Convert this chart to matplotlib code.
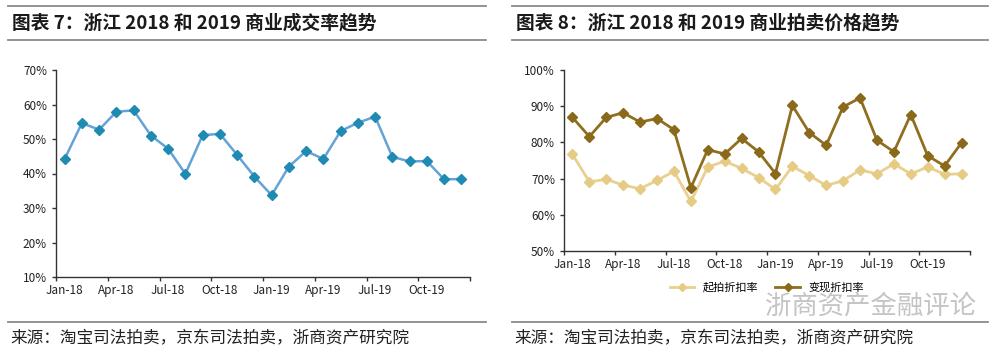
import matplotlib; matplotlib.use("Agg")
import matplotlib.pyplot as plt
from matplotlib.lines import Line2D
from matplotlib.ticker import FixedLocator, PercentFormatter

plt.rcParams['font.family'] = ['Noto Sans CJK SC', 'DejaVu Sans']

months = ["Jan-18","Feb-18","Mar-18","Apr-18","May-18","Jun-18","Jul-18","Aug-18","Sep-18","Oct-18","Nov-18","Dec-18",
          "Jan-19","Feb-19","Mar-19","Apr-19","May-19","Jun-19","Jul-19","Aug-19","Sep-19","Oct-19","Nov-19","Dec-19"]
deal_rate = [44.2,54.6,52.7,57.9,58.3,51.0,47.2,39.9,51.1,51.5,45.4,39.1,
             33.7,42.0,46.5,44.2,52.3,54.7,56.5,44.8,43.5,43.6,38.3,38.4]
start_disc = [76.7,69.1,69.8,68.2,67.2,69.5,72.0,63.7,73.2,74.8,72.8,70.3,
              67.0,73.4,70.8,68.1,69.4,72.4,71.3,74.1,71.3,73.2,71.2,71.3]
real_disc = [86.9,81.6,86.9,88.2,85.6,86.6,83.5,67.5,78.0,76.8,81.1,77.4,
             71.4,90.2,82.7,79.2,89.8,92.3,80.6,77.4,87.7,76.3,73.5,79.9]
titles = ["图表 7：浙江 2018 和 2019 商业成交率趋势", "图表 8：浙江 2018 和 2019 商业拍卖价格趋势"]
source = "来源：淘宝司法拍卖，京东司法拍卖，浙商资产研究院"
legend_labels = ["起拍折扣率", "变现折扣率"]
watermark = "浙商资产金融评论"

W, H = 1000, 354
fig = plt.figure(figsize=(10, 3.54), dpi=100)
fx = lambda px: px / W
fy = lambda py: 1 - py / H

# header / footer rules and text
for x0, x1, t in [(8, 486, titles[0]), (512, 988, titles[1])]:
    for y in (6, 40, 322):
        fig.add_artist(Line2D([fx(x0), fx(x1)], [fy(y), fy(y)], color="#8a8a8a", lw=1.3))
    fig.text(fx(x0 + 4), fy(23), t, fontsize=13.5, fontweight="bold", fontstyle="italic",
             color="#1a1a1a", va="center", ha="left")
    fig.text(fx(x0 + 2), fy(339), source, fontsize=12, color="#222", va="center", ha="left")

def style(ax, lo, hi):
    n = len(months)
    ax.set_xlim(-0.5, n - 0.5)
    ax.set_ylim(lo, hi)
    ax.set_yticks(range(lo, hi + 1, 10))
    ax.yaxis.set_major_formatter(PercentFormatter(decimals=0))
    ax.xaxis.set_major_locator(FixedLocator([i - 0.5 for i in range(0, n + 1, 3)]))
    ax.xaxis.set_minor_locator(FixedLocator(list(range(0, n, 3))))
    ax.set_xticklabels([])
    ax.set_xticklabels([months[i] for i in range(0, n, 3)], minor=True)
    ax.tick_params(axis="x", which="major", length=3, width=1, color="#333")
    ax.tick_params(axis="x", which="minor", length=0, labelsize=8.5, pad=5, colors="#222")
    ax.tick_params(axis="y", length=3, width=1, color="#333", labelsize=8.5, labelcolor="#222")
    for s in ("top", "right"):
        ax.spines[s].set_visible(False)
    for s in ("left", "bottom"):
        ax.spines[s].set_color("#333")
        ax.spines[s].set_linewidth(1)

x = list(range(len(months)))
ax1 = fig.add_axes([fx(56), fy(277), fx(470 - 56), (277 - 70) / H])
ax1.plot(x, deal_rate, color="#64a3d8", lw=1.8, marker="D", markersize=5,
         markerfacecolor="#1f8ab2", markeredgecolor="#1f8ab2")
style(ax1, 10, 70)

ax2 = fig.add_axes([fx(564), fy(251), fx(970 - 564), (251 - 70) / H])
ax2.plot(x, start_disc, color="#e9d08f", lw=2, marker="D", markersize=5,
         markerfacecolor="#e6cb85", markeredgecolor="#e6cb85", label=legend_labels[0])
ax2.plot(x, real_disc, color="#8f6f1e", lw=2, marker="D", markersize=5,
         markerfacecolor="#8a6a1a", markeredgecolor="#8a6a1a", label=legend_labels[1])
style(ax2, 50, 100)
ax2.legend(loc="center", bbox_to_anchor=(0.5, -0.2), ncol=2, frameon=False,
           fontsize=8, handlelength=2.2, markerscale=0.8, columnspacing=1.5)

fig.text(fx(870), fy(306), watermark, fontsize=19, color="#c4c4c4", ha="center", va="center")

fig.savefig("out.png", dpi=100)
